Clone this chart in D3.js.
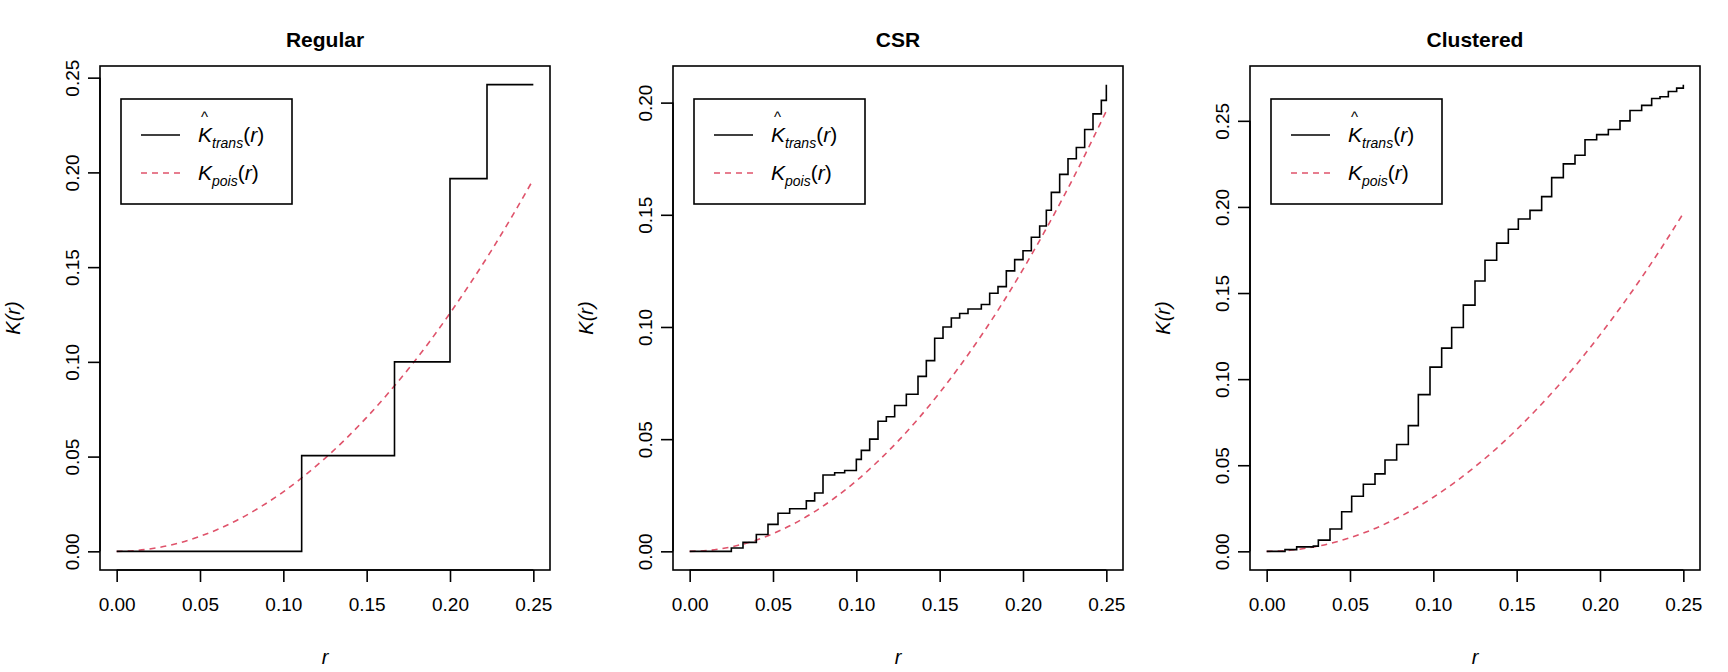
<!DOCTYPE html>
<html><head><meta charset="utf-8">
<script src="https://cdn.jsdelivr.net/npm/d3@7"></script>
<style>body{margin:0;background:#fff}text{font-family:"Liberation Sans",Arial,sans-serif}</style>
</head><body><div id="canvas"></div>
<script>
// data
var titles=["Regular","CSR","Clustered"];
var regR=[0,0.111,0.1667,0.2,0.2222,0.25];
var regK=[0,0.0505,0.1,0.1967,0.2463,0.2463];
var csrR=[0,0.025,0.032,0.04,0.047,0.053,0.06,0.07,0.075,0.08,0.087,0.093,0.1,0.103,0.108,0.113,0.118,0.123,0.13,0.137,0.142,0.147,0.152,0.157,0.162,0.167,0.175,0.18,0.185,0.19,0.195,0.2,0.205,0.21,0.214,0.217,0.222,0.227,0.232,0.237,0.242,0.247,0.25];
var csrK=[0,0.0015,0.004,0.0075,0.012,0.017,0.019,0.0225,0.026,0.034,0.035,0.036,0.041,0.045,0.05,0.058,0.06,0.065,0.07,0.078,0.085,0.095,0.1,0.104,0.106,0.108,0.11,0.115,0.118,0.125,0.13,0.134,0.14,0.145,0.152,0.16,0.168,0.175,0.18,0.188,0.195,0.201,0.208];
var cluR=[0,0.011,0.018,0.028,0.031,0.038,0.045,0.051,0.058,0.065,0.071,0.078,0.085,0.091,0.098,0.105,0.111,0.118,0.125,0.131,0.138,0.145,0.151,0.158,0.165,0.171,0.178,0.185,0.191,0.198,0.205,0.212,0.218,0.225,0.231,0.236,0.241,0.246,0.25];
var cluK=[0,0.001,0.0026,0.003,0.0065,0.013,0.023,0.032,0.039,0.045,0.053,0.062,0.073,0.091,0.107,0.118,0.13,0.143,0.157,0.169,0.179,0.187,0.193,0.198,0.206,0.217,0.225,0.23,0.239,0.242,0.245,0.25,0.256,0.259,0.263,0.264,0.267,0.269,0.271];
var poisR=[0,0.0125,0.025,0.0375,0.05,0.0625,0.075,0.0875,0.1,0.1125,0.125,0.1375,0.15,0.1625,0.175,0.1875,0.2,0.2125,0.225,0.2375,0.25];
var poisK=[0,0.0005,0.002,0.0044,0.0079,0.0123,0.0177,0.0241,0.0314,0.0398,0.0491,0.0594,0.0707,0.083,0.0962,0.1104,0.1257,0.1419,0.159,0.1772,0.1963];
var xTicks=[0,0.05,0.1,0.15,0.2,0.25];
var yTicks=[[0,0.05,0.1,0.15,0.2,0.25],[0,0.05,0.1,0.15,0.2],[0,0.05,0.1,0.15,0.2,0.25]];
var series=[[regR,regK],[csrR,csrK],[cluR,cluK]];

var wid=1728,hgh=672;
var boxL=[100,673,1250],boxW=450,boxT=66,boxB=570;
var svg=d3.select('#canvas').append('svg').attr('width',wid).attr('height',hgh);
var fmt=d3.format('.2f');

series.forEach(function(s,i){
 var R=s[0],K=s[1];
 var M=d3.max(K.concat(poisK));
 var x=d3.scaleLinear().domain([-0.01,0.26]).range([boxL[i],boxL[i]+boxW]);
 var y=d3.scaleLinear().domain([-0.04*M,1.04*M]).range([boxB,boxT]);
 var g=svg.append('g');
 g.append('rect').attr('x',boxL[i]).attr('y',boxT).attr('width',boxW).attr('height',boxB-boxT)
  .attr('fill','none').attr('stroke','#000').attr('stroke-width',1.6);
 var ax=g.append('g').attr('transform','translate(0,'+boxB+')')
  .call(d3.axisBottom(x).tickValues(xTicks).tickFormat(fmt).tickSize(12).tickPadding(16));
 var ay=g.append('g').attr('transform','translate('+boxL[i]+',0)')
  .call(d3.axisLeft(y).tickValues(yTicks[i]).tickFormat(fmt).tickSize(12).tickPadding(6));
 [ax,ay].forEach(function(a){
  a.select('.domain').remove();
  a.selectAll('line').attr('stroke-width',1.6);
  a.selectAll('text').attr('font-size',19).attr('fill','#000');
 });
 // x axis domain line from first to last tick
 ax.append('line').attr('x1',x(0)).attr('x2',x(0.25)).attr('stroke','#000').attr('stroke-width',1.6);
 ay.append('line').attr('y1',y(0)).attr('y2',y(yTicks[i][yTicks[i].length-1])).attr('stroke','#000').attr('stroke-width',1.6);
 ay.selectAll('.tick text').attr('transform','rotate(-90)').attr('text-anchor','middle')
  .attr('x',0).attr('y',-28).attr('dy','0.35em');
 g.append('text').attr('x',boxL[i]+boxW/2).attr('y',47).attr('text-anchor','middle')
  .attr('font-size',21).attr('font-weight','bold').text(titles[i]);
 g.append('text').attr('x',x(0.125)).attr('y',664).attr('text-anchor','middle')
  .attr('font-size',20).attr('font-style','italic').text('r');
 var yl=g.append('text').attr('transform','translate('+(boxL[i]-80)+','+((boxT+boxB)/2)+') rotate(-90)')
  .attr('text-anchor','middle').attr('font-size',20).attr('font-style','italic');
 yl.append('tspan').text('K(');yl.append('tspan').text('r');yl.append('tspan').text(')');
 // lines
 g.append('path').datum(poisR.map(function(r,j){return [r,poisK[j]];}))
  .attr('d',d3.line().x(function(d){return x(d[0]);}).y(function(d){return y(d[1]);}).curve(d3.curveMonotoneX))
  .attr('fill','none').attr('stroke','#DF536B').attr('stroke-width',1.6).attr('stroke-dasharray','6,5');
 g.append('path').datum(R.map(function(r,j){return [r,K[j]];}))
  .attr('d',d3.line().x(function(d){return x(d[0]);}).y(function(d){return y(d[1]);}).curve(d3.curveStepAfter))
  .attr('fill','none').attr('stroke','#000').attr('stroke-width',1.6);
 // legend
 var lx=boxL[i]+21,ly=boxT+33;
 g.append('rect').attr('x',lx).attr('y',ly).attr('width',171).attr('height',105)
  .attr('fill','#fff').attr('stroke','#000').attr('stroke-width',1.6);
 g.append('line').attr('x1',lx+20).attr('x2',lx+59).attr('y1',ly+36).attr('y2',ly+36).attr('stroke','#000').attr('stroke-width',1.6);
 g.append('line').attr('x1',lx+20).attr('x2',lx+59).attr('y1',ly+74).attr('y2',ly+74)
  .attr('stroke','#DF536B').attr('stroke-width',1.6).attr('stroke-dasharray','6,5');
 var t1=g.append('text').attr('x',lx+77).attr('y',ly+43).attr('font-size',21).attr('font-style','italic');
 t1.append('tspan').text('K');
 t1.append('tspan').attr('font-size',14).attr('dy',6).text('trans');
 t1.append('tspan').attr('dy',-6).attr('font-style','normal').text('(');
 t1.append('tspan').text('r');t1.append('tspan').attr('font-style','normal').text(')');
 g.append('text').attr('x',lx+80).attr('y',ly+23).attr('font-size',15).text('^');
 var t2=g.append('text').attr('x',lx+77).attr('y',ly+81).attr('font-size',21).attr('font-style','italic');
 t2.append('tspan').text('K');
 t2.append('tspan').attr('font-size',14).attr('dy',6).text('pois');
 t2.append('tspan').attr('dy',-6).attr('font-style','normal').text('(');
 t2.append('tspan').text('r');t2.append('tspan').attr('font-style','normal').text(')');
});
</script></body></html>
